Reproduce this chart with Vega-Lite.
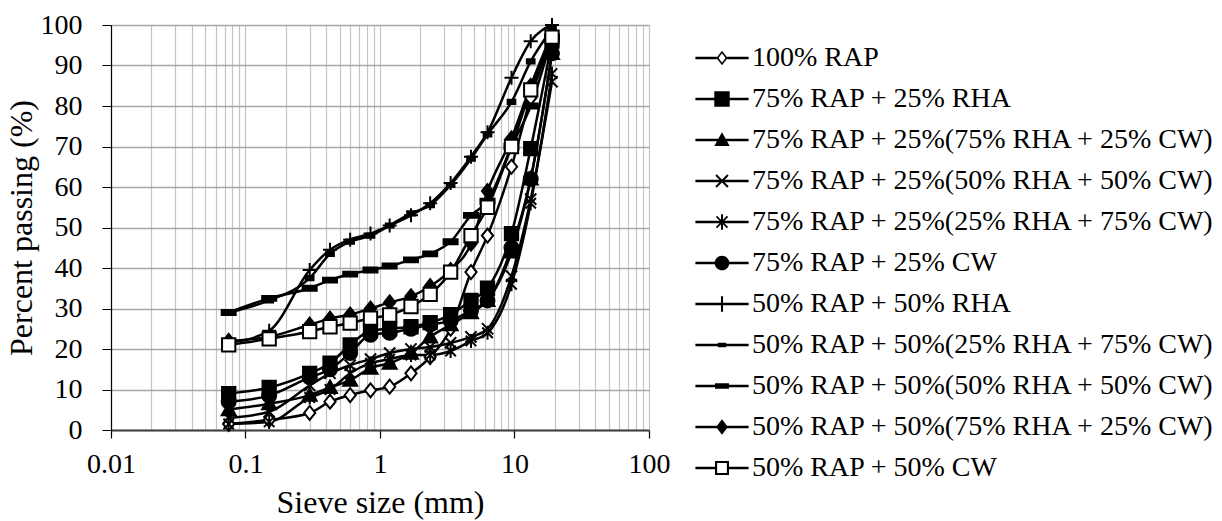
{
  "$schema": "https://vega.github.io/schema/vega-lite/v6.json",
  "width": 538,
  "height": 405,
  "autosize": "none",
  "padding": {"left": 111, "top": 25, "right": 573, "bottom": 91},
  "background": "white",
  "config": {"font": "Liberation Serif", "view": {"stroke": null}},
  "datasets": {
    "grad": [
      {"mix":"100% RAP","size":0.075,"pass":1.5},{"mix":"100% RAP","size":0.15,"pass":2.5},{"mix":"100% RAP","size":0.3,"pass":4.2},{"mix":"100% RAP","size":0.425,"pass":7},{"mix":"100% RAP","size":0.6,"pass":8.6},{"mix":"100% RAP","size":0.85,"pass":9.8},{"mix":"100% RAP","size":1.18,"pass":10.7},{"mix":"100% RAP","size":1.7,"pass":14},{"mix":"100% RAP","size":2.36,"pass":18},{"mix":"100% RAP","size":3.35,"pass":25},{"mix":"100% RAP","size":4.75,"pass":39},{"mix":"100% RAP","size":6.3,"pass":48},{"mix":"100% RAP","size":9.5,"pass":65},{"mix":"100% RAP","size":13.2,"pass":82},{"mix":"100% RAP","size":19,"pass":97},
      {"mix":"75% RAP + 25% RHA","size":0.075,"pass":9},{"mix":"75% RAP + 25% RHA","size":0.15,"pass":10.5},{"mix":"75% RAP + 25% RHA","size":0.3,"pass":14},{"mix":"75% RAP + 25% RHA","size":0.425,"pass":16.5},{"mix":"75% RAP + 25% RHA","size":0.6,"pass":21},{"mix":"75% RAP + 25% RHA","size":0.85,"pass":24.5},{"mix":"75% RAP + 25% RHA","size":1.18,"pass":25},{"mix":"75% RAP + 25% RHA","size":1.7,"pass":25.5},{"mix":"75% RAP + 25% RHA","size":2.36,"pass":26.5},{"mix":"75% RAP + 25% RHA","size":3.35,"pass":28.5},{"mix":"75% RAP + 25% RHA","size":4.75,"pass":32},{"mix":"75% RAP + 25% RHA","size":6.3,"pass":35},{"mix":"75% RAP + 25% RHA","size":9.5,"pass":48.5},{"mix":"75% RAP + 25% RHA","size":13.2,"pass":69.5},{"mix":"75% RAP + 25% RHA","size":19,"pass":96},
      {"mix":"75% RAP + 25%(75% RHA + 25% CW)","size":0.075,"pass":5},{"mix":"75% RAP + 25%(75% RHA + 25% CW)","size":0.15,"pass":6.5},{"mix":"75% RAP + 25%(75% RHA + 25% CW)","size":0.3,"pass":8.6},{"mix":"75% RAP + 25%(75% RHA + 25% CW)","size":0.425,"pass":10.5},{"mix":"75% RAP + 25%(75% RHA + 25% CW)","size":0.6,"pass":12.3},{"mix":"75% RAP + 25%(75% RHA + 25% CW)","size":0.85,"pass":15.3},{"mix":"75% RAP + 25%(75% RHA + 25% CW)","size":1.18,"pass":16.5},{"mix":"75% RAP + 25%(75% RHA + 25% CW)","size":1.7,"pass":19},{"mix":"75% RAP + 25%(75% RHA + 25% CW)","size":2.36,"pass":23},{"mix":"75% RAP + 25%(75% RHA + 25% CW)","size":3.35,"pass":26},{"mix":"75% RAP + 25%(75% RHA + 25% CW)","size":4.75,"pass":29},{"mix":"75% RAP + 25%(75% RHA + 25% CW)","size":6.3,"pass":32},{"mix":"75% RAP + 25%(75% RHA + 25% CW)","size":9.5,"pass":44},{"mix":"75% RAP + 25%(75% RHA + 25% CW)","size":13.2,"pass":62},{"mix":"75% RAP + 25%(75% RHA + 25% CW)","size":19,"pass":93},
      {"mix":"75% RAP + 25%(50% RHA + 50% CW)","size":0.075,"pass":3},{"mix":"75% RAP + 25%(50% RHA + 50% CW)","size":0.15,"pass":4.5},{"mix":"75% RAP + 25%(50% RHA + 50% CW)","size":0.3,"pass":11},{"mix":"75% RAP + 25%(50% RHA + 50% CW)","size":0.425,"pass":14},{"mix":"75% RAP + 25%(50% RHA + 50% CW)","size":0.6,"pass":16},{"mix":"75% RAP + 25%(50% RHA + 50% CW)","size":0.85,"pass":17.5},{"mix":"75% RAP + 25%(50% RHA + 50% CW)","size":1.18,"pass":19},{"mix":"75% RAP + 25%(50% RHA + 50% CW)","size":1.7,"pass":20},{"mix":"75% RAP + 25%(50% RHA + 50% CW)","size":2.36,"pass":20.5},{"mix":"75% RAP + 25%(50% RHA + 50% CW)","size":3.35,"pass":21.5},{"mix":"75% RAP + 25%(50% RHA + 50% CW)","size":4.75,"pass":23},{"mix":"75% RAP + 25%(50% RHA + 50% CW)","size":6.3,"pass":25},{"mix":"75% RAP + 25%(50% RHA + 50% CW)","size":9.5,"pass":38},{"mix":"75% RAP + 25%(50% RHA + 50% CW)","size":13.2,"pass":57},{"mix":"75% RAP + 25%(50% RHA + 50% CW)","size":19,"pass":86},
      {"mix":"75% RAP + 25%(25% RHA + 75% CW)","size":0.075,"pass":1.5},{"mix":"75% RAP + 25%(25% RHA + 75% CW)","size":0.15,"pass":2},{"mix":"75% RAP + 25%(25% RHA + 75% CW)","size":0.3,"pass":8},{"mix":"75% RAP + 25%(25% RHA + 75% CW)","size":0.425,"pass":10},{"mix":"75% RAP + 25%(25% RHA + 75% CW)","size":0.6,"pass":14},{"mix":"75% RAP + 25%(25% RHA + 75% CW)","size":0.85,"pass":16.5},{"mix":"75% RAP + 25%(25% RHA + 75% CW)","size":1.18,"pass":17.5},{"mix":"75% RAP + 25%(25% RHA + 75% CW)","size":1.7,"pass":18.5},{"mix":"75% RAP + 25%(25% RHA + 75% CW)","size":2.36,"pass":18.5},{"mix":"75% RAP + 25%(25% RHA + 75% CW)","size":3.35,"pass":19.5},{"mix":"75% RAP + 25%(25% RHA + 75% CW)","size":4.75,"pass":22},{"mix":"75% RAP + 25%(25% RHA + 75% CW)","size":6.3,"pass":24},{"mix":"75% RAP + 25%(25% RHA + 75% CW)","size":9.5,"pass":36},{"mix":"75% RAP + 25%(25% RHA + 75% CW)","size":13.2,"pass":56},{"mix":"75% RAP + 25%(25% RHA + 75% CW)","size":19,"pass":88},
      {"mix":"75% RAP + 25% CW","size":0.075,"pass":7},{"mix":"75% RAP + 25% CW","size":0.15,"pass":8.5},{"mix":"75% RAP + 25% CW","size":0.3,"pass":13},{"mix":"75% RAP + 25% CW","size":0.425,"pass":15},{"mix":"75% RAP + 25% CW","size":0.6,"pass":19},{"mix":"75% RAP + 25% CW","size":0.85,"pass":23.5},{"mix":"75% RAP + 25% CW","size":1.18,"pass":24},{"mix":"75% RAP + 25% CW","size":1.7,"pass":25},{"mix":"75% RAP + 25% CW","size":2.36,"pass":26},{"mix":"75% RAP + 25% CW","size":3.35,"pass":27},{"mix":"75% RAP + 25% CW","size":4.75,"pass":29.5},{"mix":"75% RAP + 25% CW","size":6.3,"pass":32},{"mix":"75% RAP + 25% CW","size":9.5,"pass":45},{"mix":"75% RAP + 25% CW","size":13.2,"pass":62},{"mix":"75% RAP + 25% CW","size":19,"pass":93},
      {"mix":"50% RAP + 50% RHA","size":0.075,"pass":21.5},{"mix":"50% RAP + 50% RHA","size":0.15,"pass":24.5},{"mix":"50% RAP + 50% RHA","size":0.3,"pass":39.5},{"mix":"50% RAP + 50% RHA","size":0.425,"pass":44.5},{"mix":"50% RAP + 50% RHA","size":0.6,"pass":47},{"mix":"50% RAP + 50% RHA","size":0.85,"pass":48.5},{"mix":"50% RAP + 50% RHA","size":1.18,"pass":50.5},{"mix":"50% RAP + 50% RHA","size":1.7,"pass":53},{"mix":"50% RAP + 50% RHA","size":2.36,"pass":56},{"mix":"50% RAP + 50% RHA","size":3.35,"pass":61},{"mix":"50% RAP + 50% RHA","size":4.75,"pass":67.5},{"mix":"50% RAP + 50% RHA","size":6.3,"pass":73.5},{"mix":"50% RAP + 50% RHA","size":9.5,"pass":87},{"mix":"50% RAP + 50% RHA","size":13.2,"pass":96},{"mix":"50% RAP + 50% RHA","size":19,"pass":100},
      {"mix":"50% RAP + 50%(25% RHA + 75% CW)","size":0.075,"pass":29},{"mix":"50% RAP + 50%(25% RHA + 75% CW)","size":0.15,"pass":32},{"mix":"50% RAP + 50%(25% RHA + 75% CW)","size":0.3,"pass":37.5},{"mix":"50% RAP + 50%(25% RHA + 75% CW)","size":0.425,"pass":43.5},{"mix":"50% RAP + 50%(25% RHA + 75% CW)","size":0.6,"pass":46.5},{"mix":"50% RAP + 50%(25% RHA + 75% CW)","size":0.85,"pass":48},{"mix":"50% RAP + 50%(25% RHA + 75% CW)","size":1.18,"pass":50.5},{"mix":"50% RAP + 50%(25% RHA + 75% CW)","size":1.7,"pass":53.5},{"mix":"50% RAP + 50%(25% RHA + 75% CW)","size":2.36,"pass":55.5},{"mix":"50% RAP + 50%(25% RHA + 75% CW)","size":3.35,"pass":60.5},{"mix":"50% RAP + 50%(25% RHA + 75% CW)","size":4.75,"pass":67},{"mix":"50% RAP + 50%(25% RHA + 75% CW)","size":6.3,"pass":73},{"mix":"50% RAP + 50%(25% RHA + 75% CW)","size":9.5,"pass":81},{"mix":"50% RAP + 50%(25% RHA + 75% CW)","size":13.2,"pass":91},{"mix":"50% RAP + 50%(25% RHA + 75% CW)","size":19,"pass":99},
      {"mix":"50% RAP + 50%(50% RHA + 50% CW)","size":0.075,"pass":29},{"mix":"50% RAP + 50%(50% RHA + 50% CW)","size":0.15,"pass":32.5},{"mix":"50% RAP + 50%(50% RHA + 50% CW)","size":0.3,"pass":35},{"mix":"50% RAP + 50%(50% RHA + 50% CW)","size":0.425,"pass":37},{"mix":"50% RAP + 50%(50% RHA + 50% CW)","size":0.6,"pass":38.5},{"mix":"50% RAP + 50%(50% RHA + 50% CW)","size":0.85,"pass":39.5},{"mix":"50% RAP + 50%(50% RHA + 50% CW)","size":1.18,"pass":40.5},{"mix":"50% RAP + 50%(50% RHA + 50% CW)","size":1.7,"pass":42},{"mix":"50% RAP + 50%(50% RHA + 50% CW)","size":2.36,"pass":43.5},{"mix":"50% RAP + 50%(50% RHA + 50% CW)","size":3.35,"pass":46.5},{"mix":"50% RAP + 50%(50% RHA + 50% CW)","size":4.75,"pass":53},{"mix":"50% RAP + 50%(50% RHA + 50% CW)","size":6.3,"pass":56.5},{"mix":"50% RAP + 50%(50% RHA + 50% CW)","size":9.5,"pass":70},{"mix":"50% RAP + 50%(50% RHA + 50% CW)","size":13.2,"pass":80},{"mix":"50% RAP + 50%(50% RHA + 50% CW)","size":19,"pass":97},
      {"mix":"50% RAP + 50%(75% RHA + 25% CW)","size":0.075,"pass":22},{"mix":"50% RAP + 50%(75% RHA + 25% CW)","size":0.15,"pass":23},{"mix":"50% RAP + 50%(75% RHA + 25% CW)","size":0.3,"pass":26},{"mix":"50% RAP + 50%(75% RHA + 25% CW)","size":0.425,"pass":27.5},{"mix":"50% RAP + 50%(75% RHA + 25% CW)","size":0.6,"pass":28.5},{"mix":"50% RAP + 50%(75% RHA + 25% CW)","size":0.85,"pass":30},{"mix":"50% RAP + 50%(75% RHA + 25% CW)","size":1.18,"pass":31.5},{"mix":"50% RAP + 50%(75% RHA + 25% CW)","size":1.7,"pass":33},{"mix":"50% RAP + 50%(75% RHA + 25% CW)","size":2.36,"pass":35.5},{"mix":"50% RAP + 50%(75% RHA + 25% CW)","size":3.35,"pass":39.5},{"mix":"50% RAP + 50%(75% RHA + 25% CW)","size":4.75,"pass":46},{"mix":"50% RAP + 50%(75% RHA + 25% CW)","size":6.3,"pass":59},{"mix":"50% RAP + 50%(75% RHA + 25% CW)","size":9.5,"pass":72},{"mix":"50% RAP + 50%(75% RHA + 25% CW)","size":13.2,"pass":85},{"mix":"50% RAP + 50%(75% RHA + 25% CW)","size":19,"pass":98},
      {"mix":"50% RAP + 50% CW","size":0.075,"pass":21},{"mix":"50% RAP + 50% CW","size":0.15,"pass":22.5},{"mix":"50% RAP + 50% CW","size":0.3,"pass":24.3},{"mix":"50% RAP + 50% CW","size":0.425,"pass":25.5},{"mix":"50% RAP + 50% CW","size":0.6,"pass":26.4},{"mix":"50% RAP + 50% CW","size":0.85,"pass":27.6},{"mix":"50% RAP + 50% CW","size":1.18,"pass":28.4},{"mix":"50% RAP + 50% CW","size":1.7,"pass":30.5},{"mix":"50% RAP + 50% CW","size":2.36,"pass":33.5},{"mix":"50% RAP + 50% CW","size":3.35,"pass":39},{"mix":"50% RAP + 50% CW","size":4.75,"pass":48},{"mix":"50% RAP + 50% CW","size":6.3,"pass":55},{"mix":"50% RAP + 50% CW","size":9.5,"pass":70},{"mix":"50% RAP + 50% CW","size":13.2,"pass":84},{"mix":"50% RAP + 50% CW","size":19,"pass":97}
    ]
  },
  "data": {"name": "grad"},
  "layer": [
    {
      "mark": {"type": "line", "color": "black", "strokeWidth": 2.5, "interpolate": "monotone"},
      "encoding": {
        "x": {
          "field": "size", "type": "quantitative", "title": "Sieve size (mm)",
          "scale": {"type": "log", "domain": [0.01, 100], "nice": false},
          "axis": {
            "values": [0.01,0.02,0.03,0.04,0.05,0.06,0.07,0.08,0.09,0.1,0.2,0.3,0.4,0.5,0.6,0.7,0.8,0.9,1,2,3,4,5,6,7,8,9,10,20,30,40,50,60,70,80,90,100],
            "labelExpr": "datum.value == 0.01 ? '0.01' : datum.value == 0.1 ? '0.1' : datum.value == 1 ? '1' : datum.value == 10 ? '10' : datum.value == 100 ? '100' : ''",
            "labelOverlap": false, "labelFlush": false, "labelBound": false,
            "labelFontSize": 28, "labelColor": "black", "labelPadding": 12,
            "tickSize": 8, "tickColor": "black", "tickWidth": 1.2,
            "tickOpacity": {"condition": {"test": "indexof([0.01,0.1,1,10,100], datum.value) >= 0", "value": 1}, "value": 0},
            "grid": true, "gridColor": "#c4c4c4", "gridWidth": 1.2,
            "domainColor": "#404040", "domainWidth": 2,
            "titleFontSize": 32, "titleFontWeight": "normal", "titleColor": "black", "titlePadding": 9
          }
        },
        "y": {
          "field": "pass", "type": "quantitative", "title": "Percent passing (%)",
          "scale": {"domain": [0, 100], "nice": false},
          "axis": {
            "values": [0,10,20,30,40,50,60,70,80,90,100],
            "labelFontSize": 28, "labelColor": "black", "labelPadding": 20,
            "tickSize": 9, "tickColor": "black",
            "grid": true, "gridColor": "#a6a6a6", "gridWidth": 1.3,
            "domainColor": "black", "domainWidth": 1.2,
            "titleFontSize": 32, "titleFontWeight": "normal", "titleColor": "black", "titlePadding": 2
          }
        },
        "detail": {"field": "mix"},
        "order": {"field": "size", "type": "quantitative"}
      }
    },
    {
      "mark": {"type": "point", "filled": true, "stroke": "black", "strokeWidth": 2, "size": 196, "opacity": 1},
      "encoding": {
        "x": {"field": "size", "type": "quantitative"},
        "y": {"field": "pass", "type": "quantitative"},
        "shape": {
          "field": "mix", "type": "nominal", "legend": null,
          "scale": {
            "domain": ["100% RAP","75% RAP + 25% RHA","75% RAP + 25%(75% RHA + 25% CW)","75% RAP + 25%(50% RHA + 50% CW)","75% RAP + 25%(25% RHA + 75% CW)","75% RAP + 25% CW","50% RAP + 50% RHA","50% RAP + 50%(25% RHA + 75% CW)","50% RAP + 50%(50% RHA + 50% CW)","50% RAP + 50%(75% RHA + 25% CW)","50% RAP + 50% CW"],
            "range": [
              "M0,-1L0.8,0L0,1L-0.8,0Z",
              "M-0.95,-0.95L0.95,-0.95L0.95,0.95L-0.95,0.95Z",
              "M0,-1L1,0.8L-1,0.8Z",
              "M-0.8,-0.8L0.8,0.8M-0.8,0.8L0.8,-0.8",
              "M-0.75,-0.75L0.75,0.75M-0.75,0.75L0.75,-0.75M0,-1L0,1",
              "M-1,0A1,1 0 1,1 1,0A1,1 0 1,1 -1,0Z",
              "M0,-1L0,1M-1,0L1,0",
              "M-0.55,-0.3L0.55,-0.3L0.55,0.3L-0.55,0.3Z",
              "M-1,-0.35L1,-0.35L1,0.35L-1,0.35Z",
              "M0,-1L0.8,0L0,1L-0.8,0Z",
              "M-0.95,-0.95L0.95,-0.95L0.95,0.95L-0.95,0.95Z"
            ]
          }
        },
        "fill": {
          "field": "mix", "type": "nominal", "legend": null,
          "scale": {
            "domain": ["100% RAP","75% RAP + 25% RHA","75% RAP + 25%(75% RHA + 25% CW)","75% RAP + 25%(50% RHA + 50% CW)","75% RAP + 25%(25% RHA + 75% CW)","75% RAP + 25% CW","50% RAP + 50% RHA","50% RAP + 50%(25% RHA + 75% CW)","50% RAP + 50%(50% RHA + 50% CW)","50% RAP + 50%(75% RHA + 25% CW)","50% RAP + 50% CW"],
            "range": ["white","black","black","black","black","black","black","black","black","black","white"]
          }
        }
      }
    },
    {
      "mark": {"type": "point", "filled": true, "fill": "black", "size": 196, "opacity": 0},
      "encoding": {
        "x": {"field": "size", "type": "quantitative"},
        "y": {"field": "pass", "type": "quantitative"},
        "shape": {
          "field": "mix", "type": "nominal",
          "scale": {
            "domain": ["100% RAP","75% RAP + 25% RHA","75% RAP + 25%(75% RHA + 25% CW)","75% RAP + 25%(50% RHA + 50% CW)","75% RAP + 25%(25% RHA + 75% CW)","75% RAP + 25% CW","50% RAP + 50% RHA","50% RAP + 50%(25% RHA + 75% CW)","50% RAP + 50%(50% RHA + 50% CW)","50% RAP + 50%(75% RHA + 25% CW)","50% RAP + 50% CW"],
            "range": [
              "M-3.8,-0.18L-0.75,-0.18L-0.75,0.18L-3.8,0.18ZM0.75,-0.18L3.8,-0.18L3.8,0.18L0.75,0.18ZM0,-1.05L0.8,0L0,1.05L-0.8,0ZM0,-0.68L-0.5,0L0,0.68L0.5,0Z",
              "M-3.8,-0.18L3.8,-0.18L3.8,0.18L-3.8,0.18ZM-1.1,-1.1L1.1,-1.1L1.1,1.1L-1.1,1.1Z",
              "M-3.8,-0.18L3.8,-0.18L3.8,0.18L-3.8,0.18ZM0,-1.1L1.1,0.85L-1.1,0.85Z",
              "M-3.8,-0.18L3.8,-0.18L3.8,0.18L-3.8,0.18ZM-0.75,-0.95L0.95,0.75L0.75,0.95L-0.95,-0.75ZM-0.95,0.75L0.75,-0.95L0.95,-0.75L-0.75,0.95Z",
              "M-3.8,-0.18L3.8,-0.18L3.8,0.18L-3.8,0.18ZM-0.7,-0.88L0.88,0.7L0.7,0.88L-0.88,-0.7ZM-0.88,0.7L0.7,-0.88L0.88,-0.7L-0.7,0.88ZM-0.14,-1.1L0.14,-1.1L0.14,1.1L-0.14,1.1Z",
              "M-3.8,-0.18L3.8,-0.18L3.8,0.18L-3.8,0.18ZM-1.05,0A1.05,1.05 0 1,1 1.05,0A1.05,1.05 0 1,1 -1.05,0Z",
              "M-3.8,-0.18L3.8,-0.18L3.8,0.18L-3.8,0.18ZM-0.15,-1.1L0.15,-1.1L0.15,1.1L-0.15,1.1Z",
              "M-3.8,-0.18L3.8,-0.18L3.8,0.18L-3.8,0.18ZM-0.6,-0.32L0.6,-0.32L0.6,0.32L-0.6,0.32Z",
              "M-3.8,-0.18L3.8,-0.18L3.8,0.18L-3.8,0.18ZM-1,-0.4L1,-0.4L1,0.4L-1,0.4Z",
              "M-3.8,-0.18L3.8,-0.18L3.8,0.18L-3.8,0.18ZM0,-1.1L0.85,0L0,1.1L-0.85,0Z",
              "M-3.8,-0.18L-1,-0.18L-1,0.18L-3.8,0.18ZM1,-0.18L3.8,-0.18L3.8,0.18L1,0.18ZM-1,-1L1,-1L1,1L-1,1ZM-0.7,-0.7L-0.7,0.7L0.7,0.7L0.7,-0.7Z"
            ]
          },
          "legend": {
            "title": null,
            "orient": "none",
            "legendX": 597,
            "legendY": 19,
            "padding": 0,
            "direction": "vertical",
            "symbolSize": 196,
            "symbolOpacity": 1,
            "symbolFillColor": "black",
            "symbolStrokeWidth": 0,
            "labelFontSize": 28,
            "labelColor": "black",
            "labelLimit": 600,
            "labelOffset": 16,
            "rowPadding": 13
          }
        }
      }
    }
  ],
  "resolve": {"scale": {"shape": "independent", "fill": "independent"}}
}
